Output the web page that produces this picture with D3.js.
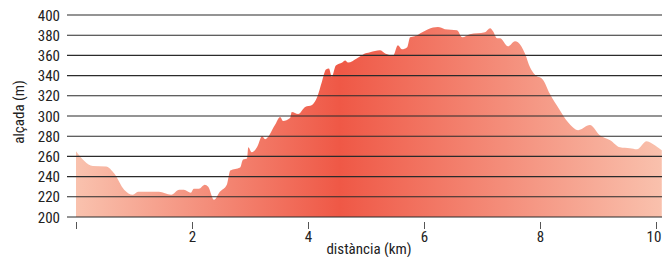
<!DOCTYPE html>
<html>
<head>
<meta charset="utf-8">
<script src="https://cdn.jsdelivr.net/npm/d3@7"></script>
<style>
  body { margin: 0; background: #fff; }
  svg { display: block; }
  .lbl { font-family: "Liberation Sans Narrow", "Arial Narrow", "Roboto Condensed", sans-serif; fill: #222; }
</style>
</head>
<body>
<div id="chart"></div>
<script>
// perfil d'altimetria: distància (km) i alçada (m)
var distancia = [0.00, 0.29, 0.52, 0.66, 0.83, 0.98, 1.07, 1.43, 1.64, 1.78, 1.86, 1.98, 2.03, 2.12, 2.22, 2.28,
  2.38, 2.48, 2.60, 2.66, 2.83, 2.88, 2.95, 2.97, 3.03, 3.12, 3.21, 3.26, 3.43, 3.52, 3.57, 3.69, 3.72, 3.83,
  3.95, 4.07, 4.16, 4.24, 4.31, 4.36, 4.41, 4.48, 4.59, 4.64, 4.69, 4.84, 4.95, 5.07, 5.24, 5.33, 5.47, 5.55,
  5.62, 5.71, 5.76, 5.84, 5.97, 6.07, 6.24, 6.36, 6.57, 6.66, 6.79, 7.05, 7.14, 7.19, 7.26, 7.31, 7.45, 7.57,
  7.62, 7.74, 7.83, 7.91, 8.05, 8.17, 8.34, 8.48, 8.66, 8.86, 9.03, 9.21, 9.38, 9.55, 9.67, 9.84, 9.98, 10.10];
var alcada = [265, 250.5, 250, 243, 227, 222, 225, 225, 222, 227, 227, 224, 228, 228, 232, 230,
  217, 225, 232, 246, 249, 257, 258, 269, 264, 269, 280, 277, 291, 299, 295, 298, 304, 302,
  309, 311, 319, 334, 346, 347, 339, 350, 353, 355, 353, 357, 361, 363, 365, 362, 360, 370,
  366, 368, 378, 379, 383, 386, 388, 386, 385, 378, 381, 383, 387, 384, 377, 377, 369, 374,
  373, 362, 348, 341, 336, 322, 306, 294, 286, 291, 281, 276, 269, 268, 267, 275, 271, 266];

var yTicks = [200, 220, 240, 260, 280, 300, 320, 340, 360, 380, 400];
var xTicks = [0, 2, 4, 6, 8, 10];
var xTickLabels = ["", "2", "4", "6", "8", "10"];

var W = 662, H = 257;

var data = distancia.map(function(d, i) { return { km: d, m: alcada[i] }; });

var svg = d3.select("#chart").append("svg")
    .attr("width", W)
    .attr("height", H);

var x = d3.scaleLinear().domain([0, 10]).range([76, 656]);
var y = d3.scaleLinear().domain([200, 400]).range([217, 15]);

// degradat horitzontal
var grad = svg.append("defs").append("linearGradient")
    .attr("id", "grad")
    .attr("gradientUnits", "userSpaceOnUse")
    .attr("x1", x(0)).attr("x2", W)
    .attr("y1", 0).attr("y2", 0);
grad.append("stop").attr("offset", "0").attr("stop-color", "#f9c2ae");
grad.append("stop").attr("offset", "0.45").attr("stop-color", "#ef5846");
grad.append("stop").attr("offset", "1").attr("stop-color", "#f9c1ad");

// àrea del perfil
svg.append("path")
    .datum(data)
    .attr("fill", "url(#grad)")
    .attr("d", d3.area()
      .x(function(d) { return x(d.km); })
      .y0(y(200))
      .y1(function(d) { return y(d.m); })
      .curve(d3.curveMonotoneX));

// línies horitzontals per sobre
svg.append("g").selectAll("line")
    .data(yTicks)
    .enter().append("line")
      .attr("x1", 67).attr("x2", W)
      .attr("y1", function(d) { return y(d); })
      .attr("y2", function(d) { return y(d); })
      .attr("stroke", "#2b2b2b")
      .attr("stroke-width", 1.1);

// eix y
svg.append("g").selectAll("text")
    .data(yTicks)
    .enter().append("text")
      .attr("class", "lbl")
      .attr("x", 60)
      .attr("y", function(d) { return y(d) + 5.5; })
      .attr("text-anchor", "end")
      .style("font-size", "15px")
      .text(function(d) { return d; });

// eix x
var xa = svg.append("g").attr("transform", "translate(0," + 222 + ")")
    .call(d3.axisBottom(x).tickValues(xTicks).tickSize(7).tickPadding(2)
      .tickFormat(function(d, i) { return xTickLabels[i]; }));
xa.select(".domain").remove();
xa.selectAll("line").attr("stroke", "#555");
xa.selectAll("text")
    .attr("class", "lbl")
    .attr("fill", "#222")
    .style("font-size", "15px")
    .attr("dx", function(d) { return d === 10 ? -2.5 : 0; });

// títols
svg.append("text")
    .attr("class", "lbl")
    .attr("x", 369).attr("y", 254)
    .attr("text-anchor", "middle")
    .style("font-size", "15px")
    .text("distància (km)");

svg.append("text")
    .attr("class", "lbl")
    .attr("transform", "translate(24,112) rotate(-90)")
    .attr("text-anchor", "middle")
    .style("font-size", "15px")
    .text("alçada (m)");
</script>
</body>
</html>
